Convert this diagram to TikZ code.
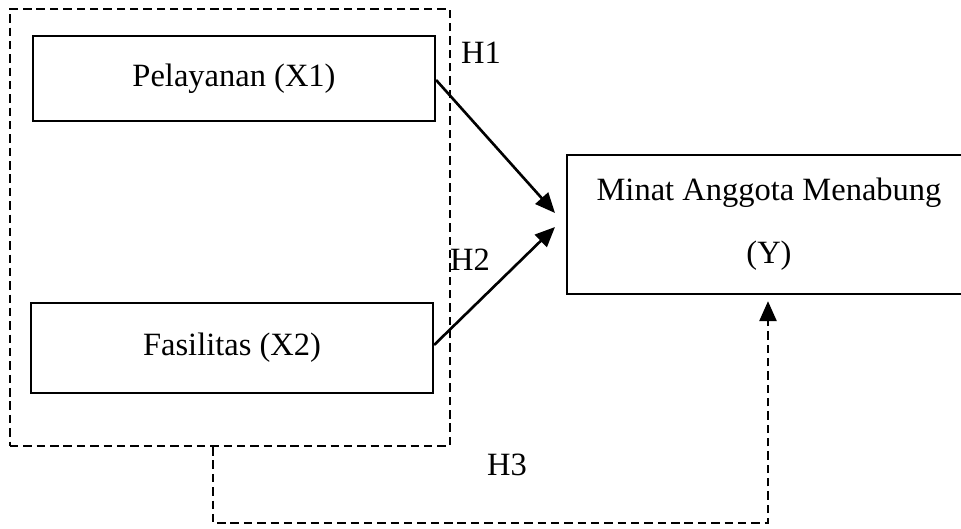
\documentclass[tikz,border=0pt]{standalone}
\usepackage{fontspec}
\setmainfont{Liberation Serif}
\usetikzlibrary{arrows.meta,calc}

\tikzset{
  varbox/.style={draw, line width=1.3pt, inner sep=0pt, align=center,
    font=\fontsize{18.5}{36}\selectfont},
  hyplabel/.style={font=\fontsize{18.5}{22}\selectfont},
  grpframe/.style={draw, dashed, dash pattern=on 4.8pt off 2.8pt, line width=1.3pt, inner sep=0pt},
  hyparrow/.style={-{Triangle[length=0.4cm,width=0.34cm]}, line width=1.5pt}
}

\begin{document}
\begin{tikzpicture}[x=0.02cm, y=-0.02cm]
  \useasboundingbox (0,0) rectangle (961,528);
  % dashed frame around the two independent variables
  \node[grpframe, minimum width=8.8cm, minimum height=8.74cm] (grp) at (230,227.5) {};
  % variable boxes
  \node[varbox, minimum width=8.04cm, minimum height=1.7cm] (x1) at (234,78.5) {Pelayanan (X1)};
  \node[varbox, minimum width=8.04cm, minimum height=1.8cm] (x2) at (232,348) {Fasilitas (X2)};
  \node[varbox, minimum width=8.08cm, minimum height=2.78cm] (yv) at (769,224.5) {Minat Anggota Menabung\\(Y)};
  % hypothesis labels
  \node[hyplabel] (h1) at (481,53) {H1};
  \node[hyplabel] (h2) at (470,260) {H2};
  \node[hyplabel] (h3) at (507,465) {H3};
  % arrow ends, a little short of the Y box
  \coordinate (t1) at (555,213);
  \coordinate (t2) at (555,227);
  \draw[hyparrow] (x1.east) ++(0,1.5) -- (t1);
  \draw[hyparrow] (x2.east) ++(0,-3) -- (t2);
  % simultaneous path H3
  \coordinate (s3) at ($(grp.south)+(-17,0)$);
  \coordinate (e3) at ($(yv.south)+(-1,6)$);
  \draw[hyparrow, dashed, dash pattern=on 4.8pt off 2.8pt]
    (s3) -- ++(0,76) -| (e3);
\end{tikzpicture}
\end{document}
